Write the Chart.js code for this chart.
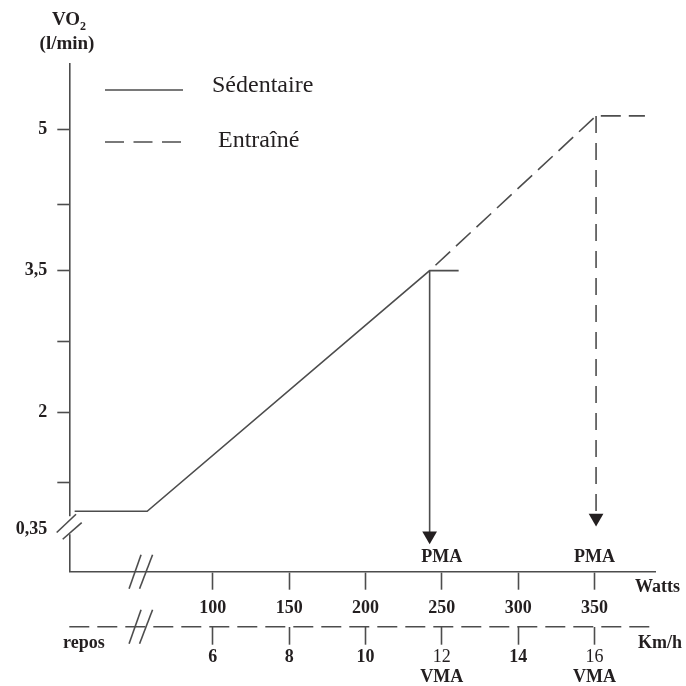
<!DOCTYPE html>
<html lang="fr">
<head>
  <meta charset="UTF-8">
  <title>VO2 max - Sédentaire / Entraîné</title>
  <script src="https://cdn.jsdelivr.net/npm/chart.js"></script>
  <style>
    body {
      margin: 0;
      background: #fff;
    }

    .chart-box {
      position: relative;
      width: 686px;
      height: 686px;
    }
  </style>
</head>
<body>
  <div class="chart-box">
    <canvas id="vo2Chart"></canvas>
  </div>

  <script>
    // graduations
    const wattTicks = [100, 150, 200, 250, 300, 350];
    const kmhTicks = [6, 8, 10, 12, 14, 16];
    const vmaTicks = [12, 16];
    const yTickValues = [5, 4.2, 3.5, 2.75, 2, 1.25, 0.76];
    const yTickLabels = ['5', '', '3,5', '', '2', '', '0,35'];

    const sedWatts = [9.5, 57, 242, 261];
    const sedVO2 = [0.95, 0.95, 3.5, 3.5];
    const entWatts = [242, 351, 383];
    const entVO2 = [3.5, 5.14, 5.14];

    // flèches PMA : du plateau jusqu'au-dessus de l'axe
    const pmaWatts = [242, 351];
    const pmaFrom = [3.5, 5.14];
    const pmaTo = [0.69, 0.88];
    const pmaLabelWatts = [250, 350];

    const wattRange = [6, 389.6];
    const vo2Range = [0.31, 5.69];
    const breakWatts = 53;
    const breakVO2 = 0.76;

    const LINE = '#4d4d4d';
    const INK = '#231f20';
    const SERIF = '"Liberation Serif", "Times New Roman", serif';
    const ENT_DASH = [20, 8];

    // km/h alignés sur les watts
    const toKmh = w => kmhTicks[0] + (w - wattTicks[0]) *
      (kmhTicks[kmhTicks.length - 1] - kmhTicks[0]) / (wattTicks[wattTicks.length - 1] - wattTicks[0]);

    const pts = (xs, ys) => xs.map((x, i) => ({ x: x, y: ys[i] }));

    function slash(ctx, x1, y1, x2, y2) {
      ctx.beginPath();
      ctx.moveTo(x1, y1);
      ctx.lineTo(x2, y2);
      ctx.stroke();
    }

    const decor = {
      id: 'decor',
      afterDraw(chart) {
        const { ctx, chartArea: a } = chart;
        const { x, x2, y } = chart.scales;
        ctx.save();
        ctx.strokeStyle = LINE;
        ctx.lineWidth = 1.6;

        // axe des km/h en tirets
        ctx.setLineDash([20, 8]);
        ctx.beginPath();
        ctx.moveTo(a.left, x2.top);
        ctx.lineTo(a.right, x2.top);
        ctx.stroke();
        ctx.setLineDash([]);

        // coupure de l'axe des VO2
        const yb = y.getPixelForValue(breakVO2);
        ctx.fillStyle = '#fff';
        ctx.fillRect(a.left - 3, yb - 13, 6, 18);
        slash(ctx, a.left - 12.6, yb + 3.3, a.left + 6.7, yb - 15);
        slash(ctx, a.left - 6.6, yb + 10, a.left + 12.4, yb - 6.7);

        // coupure des axes horizontaux
        const xb = x.getPixelForValue(breakWatts);
        [x.top, x2.top].forEach(ly => {
          slash(ctx, xb - 12, ly + 17, xb, ly - 17);
          slash(ctx, xb - 1.5, ly + 17, xb + 11.5, ly - 17);
        });

        // légende
        ctx.beginPath();
        ctx.moveTo(105, 90);
        ctx.lineTo(183, 90);
        ctx.stroke();
        ctx.setLineDash([19, 9.5]);
        ctx.beginPath();
        ctx.moveTo(105, 142);
        ctx.lineTo(183, 142);
        ctx.stroke();
        ctx.setLineDash([]);

        ctx.fillStyle = INK;
        ctx.textBaseline = 'middle';
        ctx.textAlign = 'left';
        ctx.font = '24px ' + SERIF;
        ctx.fillText('Sédentaire', 212, 86);
        ctx.fillText('Entraîné', 218, 141);

        // titre de l'axe vertical
        ctx.font = 'bold 19px ' + SERIF;
        ctx.textBaseline = 'alphabetic';
        ctx.fillText('VO', 52, 25);
        ctx.font = 'bold 12px ' + SERIF;
        ctx.fillText('2', 80, 30);
        ctx.font = 'bold 19px ' + SERIF;
        ctx.textAlign = 'center';
        ctx.fillText('(l/min)', 67, 49);

        // unités et repères
        ctx.font = 'bold 18px ' + SERIF;
        ctx.textBaseline = 'middle';
        ctx.textAlign = 'left';
        ctx.fillText('Watts', 635, x.top + 16);
        ctx.fillText('Km/h', 638, x2.top + 17);
        ctx.fillText('repos', 63, x2.top + 17);

        ctx.textAlign = 'center';
        pmaLabelWatts.forEach(w => ctx.fillText('PMA', x.getPixelForValue(w), x.top - 14));
        vmaTicks.forEach(k => ctx.fillText('VMA', x2.getPixelForValue(k), x2.top + 51));

        ctx.restore();
      }
    };

    const arrow = (i, dash) => ({
      label: 'PMA',
      data: [{ x: pmaWatts[i], y: pmaFrom[i] }, { x: pmaWatts[i], y: pmaTo[i] }],
      borderColor: LINE,
      borderWidth: 1.6,
      borderDash: dash,
      pointRadius: [0, 8.5],
      pointStyle: 'triangle',
      rotation: 180,
      pointBackgroundColor: INK,
      pointBorderColor: INK,
      pointBorderWidth: 0
    });

    const axisFont = { family: SERIF, size: 18, weight: 'bold' };

    new Chart(document.getElementById('vo2Chart'), {
      type: 'line',
      data: {
        datasets: [
          {
            label: 'Sédentaire',
            data: pts(sedWatts, sedVO2),
            borderColor: LINE,
            borderWidth: 1.6,
            pointRadius: 0
          },
          {
            label: 'Entraîné',
            data: pts(entWatts, entVO2),
            borderColor: LINE,
            borderWidth: 1.6,
            borderDash: ENT_DASH,
            borderDashOffset: 20,
            pointRadius: 0
          },
          arrow(0, []),
          arrow(1, [17, 10])
        ]
      },
      options: {
        responsive: true,
        maintainAspectRatio: false,
        animation: false,
        layout: { padding: { top: 64, right: 31, left: 0, bottom: 0 } },
        plugins: {
          legend: { display: false },
          tooltip: { enabled: false }
        },
        scales: {
          x: {
            type: 'linear',
            position: 'bottom',
            weight: 0,
            min: wattRange[0],
            max: wattRange[1],
            afterBuildTicks: s => { s.ticks = wattTicks.map(v => ({ value: v })); },
            afterFit: s => { s.height = 55; },
            border: { color: LINE, width: 1.6 },
            grid: { drawOnChartArea: false, tickLength: 18, tickWidth: 1.6, tickColor: LINE },
            ticks: {
              autoSkip: false,
              maxRotation: 0,
              padding: 8,
              color: INK,
              font: axisFont,
              callback: v => String(v)
            }
          },
          x2: {
            type: 'linear',
            position: 'bottom',
            weight: 1,
            min: toKmh(wattRange[0]),
            max: toKmh(wattRange[1]),
            afterBuildTicks: s => { s.ticks = kmhTicks.map(v => ({ value: v })); },
            afterFit: s => { s.height = 59.3; },
            border: { display: false },
            grid: { drawOnChartArea: false, tickLength: 18, tickWidth: 1.6, tickColor: LINE },
            ticks: {
              autoSkip: false,
              maxRotation: 0,
              padding: 2,
              color: INK,
              font: c => ({
                family: SERIF,
                size: 18,
                weight: c.tick && vmaTicks.includes(c.tick.value) ? 'normal' : 'bold'
              }),
              callback: v => String(v)
            }
          },
          y: {
            min: vo2Range[0],
            max: vo2Range[1],
            afterBuildTicks: s => { s.ticks = yTickValues.map(v => ({ value: v })); },
            afterFit: s => { s.width = 69.3; },
            border: { color: LINE, width: 1.6 },
            grid: {
              drawOnChartArea: false,
              tickLength: 12,
              tickWidth: 1.6,
              tickColor: c => yTickLabels[c.index] === '0,35' ? 'rgba(0,0,0,0)' : LINE
            },
            ticks: {
              autoSkip: false,
              padding: 10,
              color: INK,
              font: axisFont,
              callback: (v, i) => yTickLabels[i]
            }
          }
        }
      },
      plugins: [decor]
    });
  </script>
</body>
</html>
